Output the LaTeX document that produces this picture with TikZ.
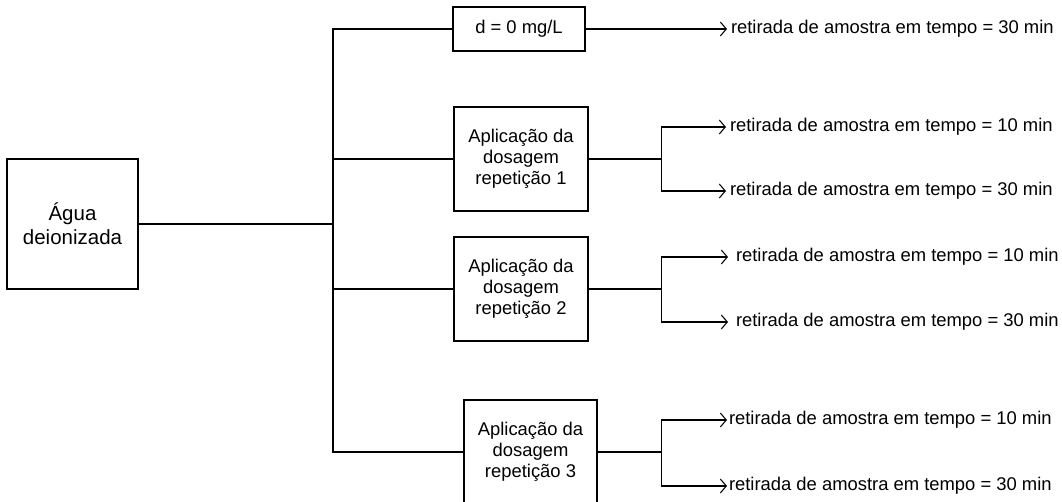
\documentclass[tikz,border=0pt]{standalone}
\usepackage{fontspec}
\setmainfont{Liberation Sans}
\usetikzlibrary{positioning,arrows.meta}

\begin{document}
\begin{tikzpicture}[
        x=1pt, y=-1pt,
        font=\fontsize{18.4}{21}\selectfont,
        line width=1.05pt,
        box/.style={draw, align=center, inner sep=0pt,
            minimum width=134pt, minimum height=104pt},
        lbl/.style={anchor=west, inner sep=0pt, outer xsep=4pt},
        arr/.style={-{Straight Barb[length=6pt, width=14pt]}},
    ]
        \useasboundingbox (0,0) rectangle (1062,501);

        % Source
        \node[box, minimum width=131pt, minimum height=130pt,
            font=\fontsize{20.5}{24}\selectfont] (agua) at (72.5,224) {Água\\ deionizada};

        % Middle column: control and repetitions
        \node[box, minimum width=132pt, minimum height=44pt] (d0) at (519,29) {d = 0 mg/L};
        \node[box] (b1) at (521,159) {Aplicação da\\ dosagem\\ repetição 1};
        \node[box] (b2) at (521,289) {Aplicação da\\ dosagem\\ repetição 2};
        \node[box, minimum width=133pt] (b3) at (530.5,452) {Aplicação da\\ dosagem\\ repetição 3};

        % Right column: samples
        \node[lbl] (t0) at (727,29) {retirada de amostra em tempo = 30 min};
        \node[lbl] (t1a) at (726,127) {retirada de amostra em tempo = 10 min};
        \node[lbl] (t1b) at (726,191) {retirada de amostra em tempo = 30 min};
        \node[lbl, outer xsep=8pt] (t2a) at (728,257) {retirada de amostra em tempo = 10 min};
        \node[lbl, outer xsep=8pt] (t2b) at (728,322) {retirada de amostra em tempo = 30 min};
        \node[lbl, outer xsep=2pt] (t3a) at (727,420) {retirada de amostra em tempo = 10 min};
        \node[lbl, outer xsep=2pt] (t3b) at (727,486) {retirada de amostra em tempo = 30 min};

        % Bus from the source
        \coordinate (bus) at (333,224);
        \draw (agua) -- (bus);
        \foreach \b in {d0,b1,b2,b3}
            \draw (bus) |- (\b);

        % Forks
        \coordinate[right=73pt of b1.east] (f1);
        \coordinate[right=73pt of b2.east] (f2);
        \coordinate[right=64pt of b3.east] (f3);

        \draw[arr] (d0) -- (t0);
        \draw (b1) -- (f1);
        \draw[arr] (f1) |- (t1a);
        \draw[arr] (f1) |- (t1b);
        \draw (b2) -- (f2);
        \draw[arr] (f2) |- (t2a);
        \draw[arr] (f2) |- (t2b);
        \draw (b3) -- (f3);
        \draw[arr] (f3) |- (t3a);
        \draw[arr] (f3) |- (t3b);
    \end{tikzpicture}
\end{document}
